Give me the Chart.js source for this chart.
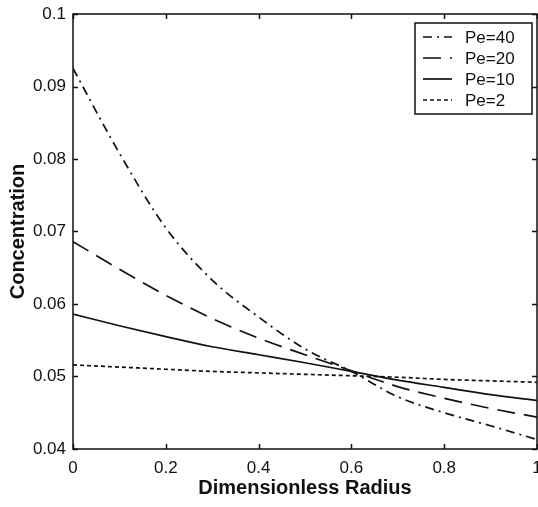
<!DOCTYPE html>
<html>
<head>
<meta charset="utf-8">
<script src="https://cdn.jsdelivr.net/npm/chart.js@4.4.1/dist/chart.umd.min.js"></script>
<style>
  html, body { margin: 0; padding: 0; background: #fff; }
  canvas { display: block; }
</style>
</head>
<body>
<canvas id="conc" width="538" height="507"></canvas>
<script>
// dimensionless radius
const radius = [0, 0.1, 0.2, 0.3, 0.4, 0.5, 0.6, 0.7, 0.8, 0.9, 1.0];
// concentration profiles
const pe40 = [0.0925, 0.0808, 0.0705, 0.0633, 0.0582, 0.0538, 0.0507, 0.0472, 0.0450, 0.0432, 0.0413];
const pe20 = [0.0686, 0.0648, 0.0612, 0.0580, 0.0553, 0.0530, 0.0508, 0.0486, 0.0470, 0.0456, 0.0444];
const pe10 = [0.0586, 0.0570, 0.0555, 0.0541, 0.0530, 0.0519, 0.0507, 0.0495, 0.0485, 0.0475, 0.0467];
const pe2  = [0.0516, 0.0513, 0.0510, 0.0507, 0.0505, 0.0503, 0.0501, 0.0499, 0.0496, 0.0494, 0.0492];
const seriesNames = ['Pe=40', 'Pe=20', 'Pe=10', 'Pe=2'];
const xTicks = [0, 0.2, 0.4, 0.6, 0.8, 1];
const yTicks = [0.04, 0.05, 0.06, 0.07, 0.08, 0.09, 0.1];

const INK = '#111';
const FONT = '"Liberation Sans", Arial, sans-serif';

function pts(vals) {
    return radius.map((r, i) => ({ x: r, y: vals[i] }));
}

function line(label, vals, dash) {
    return {
        label: label,
        data: pts(vals),
        borderColor: INK,
        borderWidth: 1.7,
        borderDash: dash,
        pointRadius: 0,
        fill: false,
        cubicInterpolationMode: 'monotone'
    };
}

// matlab style: ticks pointing in, on all four sides, plus a boxed legend
const frame = {
    id: 'frame',
    afterDraw(chart) {
        const ctx = chart.ctx;
        const a = chart.chartArea;
        const xs = chart.scales.x, ys = chart.scales.y;
        ctx.save();
        ctx.strokeStyle = INK;
        ctx.lineWidth = 1.5;
        ctx.setLineDash([]);
        ctx.strokeRect(a.left, a.top, a.right - a.left, a.bottom - a.top);
        ctx.beginPath();
        xTicks.forEach(v => {
            const px = Math.round(xs.getPixelForValue(v)) + 0.5;
            ctx.moveTo(px, a.bottom); ctx.lineTo(px, a.bottom - 5);
            ctx.moveTo(px, a.top); ctx.lineTo(px, a.top + 5);
        });
        yTicks.forEach(v => {
            const py = Math.round(ys.getPixelForValue(v)) + 0.5;
            ctx.moveTo(a.left, py); ctx.lineTo(a.left + 5, py);
            ctx.moveTo(a.right, py); ctx.lineTo(a.right - 5, py);
        });
        ctx.stroke();

        // legend
        const bx = 415, by = 23, bw = 117, bh = 91;
        ctx.fillStyle = '#fff';
        ctx.fillRect(bx, by, bw, bh);
        ctx.strokeRect(bx, by, bw, bh);
        ctx.font = '17px ' + FONT;
        ctx.textBaseline = 'middle';
        ctx.fillStyle = INK;
        chart.data.datasets.forEach((ds, i) => {
            const y = by + 14 + i * 21;
            ctx.beginPath();
            ctx.setLineDash(ds.borderDash || []);
            ctx.lineWidth = 1.7;
            ctx.moveTo(bx + 8, y);
            ctx.lineTo(bx + 37, y);
            ctx.stroke();
            ctx.setLineDash([]);
            ctx.fillText(ds.label, bx + 50, y + 1);
        });
        ctx.restore();
    }
};

new Chart(document.getElementById('conc').getContext('2d'), {
    type: 'line',
    data: {
        datasets: [
            line(seriesNames[0], pe40, [9, 5, 2, 5]),
            line(seriesNames[1], pe20, [18, 9]),
            line(seriesNames[2], pe10, []),
            line(seriesNames[3], pe2, [4, 3])
        ]
    },
    plugins: [frame],
    options: {
        responsive: false,
        animation: false,
        layout: { autoPadding: false, padding: { top: 14, right: 1, left: 0, bottom: 0 } },
        plugins: {
            legend: { display: false },
            tooltip: { enabled: false }
        },
        scales: {
            x: {
                type: 'linear',
                min: 0,
                max: 1,
                afterFit: s => { s.height = 58; s.paddingLeft = 0; s.paddingRight = 0; },
                afterBuildTicks: s => { s.ticks = xTicks.map(v => ({ value: v })); },
                grid: { display: false, drawTicks: false },
                border: { display: false },
                ticks: {
                    color: INK,
                    padding: 9,
                    font: { family: FONT, size: 17 },
                    maxRotation: 0,
                    callback: v => String(Number(v.toFixed(2)))
                },
                title: {
                    display: true,
                    text: 'Dimensionless Radius',
                    color: INK,
                    font: { family: FONT, size: 20, weight: 'bold' },
                    padding: { top: 0, bottom: 7 }
                }
            },
            y: {
                type: 'linear',
                min: 0.04,
                max: 0.1,
                afterFit: s => { s.width = 73; s.paddingTop = 0; s.paddingBottom = 0; },
                afterBuildTicks: s => { s.ticks = yTicks.map(v => ({ value: v })); },
                grid: { display: false, drawTicks: false },
                border: { display: false },
                ticks: {
                    color: INK,
                    padding: 7,
                    font: { family: FONT, size: 17 },
                    callback: v => String(Number(v.toFixed(2)))
                },
                title: {
                    display: true,
                    text: 'Concentration',
                    color: INK,
                    font: { family: FONT, size: 20, weight: 'bold' },
                    padding: { top: 6, bottom: 0 }
                }
            }
        }
    }
});
</script>
</body>
</html>
